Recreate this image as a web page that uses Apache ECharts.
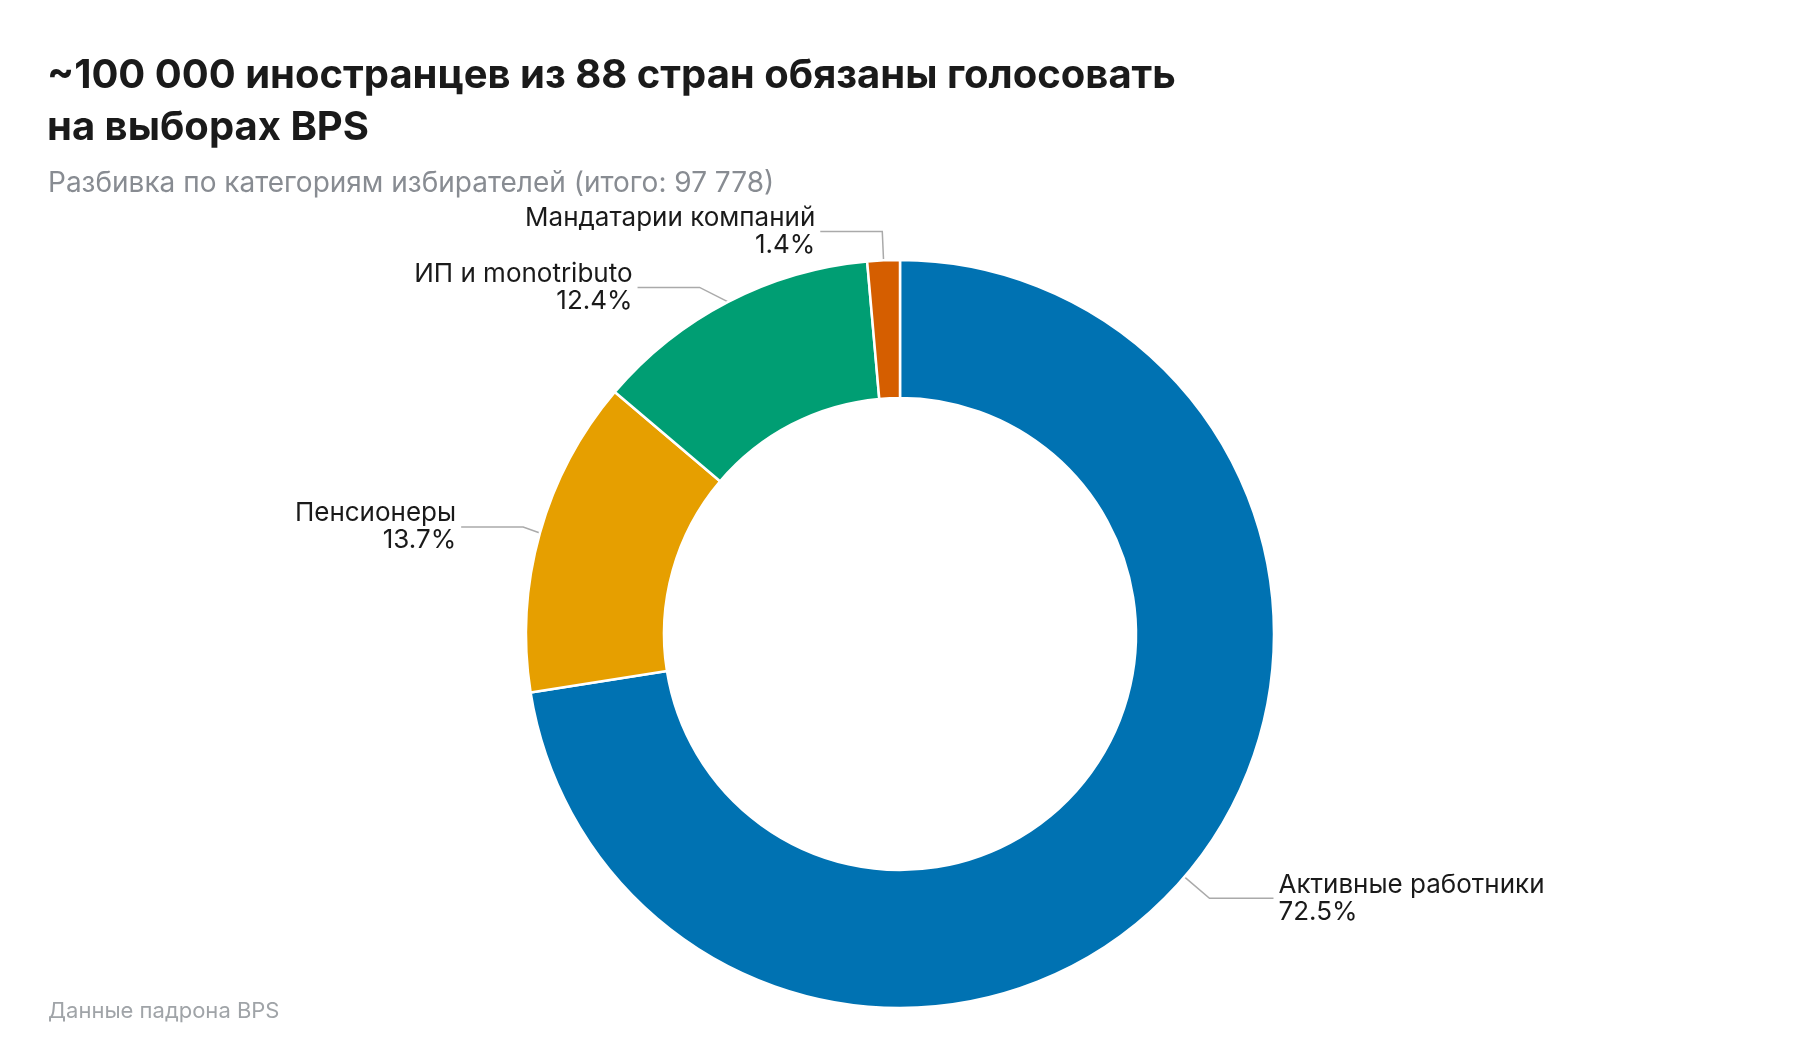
<!DOCTYPE html>
<html>
<head>
<meta charset="utf-8">
<script src="https://cdn.jsdelivr.net/npm/echarts@6/dist/echarts.min.js"></script>
<style>
html,body{margin:0;padding:0;background:#fff;}
#chart{width:1800px;height:1040px;}
</style>
</head>
<body>
<div id="chart"></div>
<script>
const categories = ['Активные работники', 'Пенсионеры', 'ИП и monotributo', 'Мандатарии компаний'];
const shares = [72.5, 13.7, 12.4, 1.4];
const colors = ['#0072B2', '#E69F00', '#009E73', '#D55E00'];
const titleText = '~100 000 иностранцев из 88 стран обязаны голосовать\nна выборах BPS';
const subtitleText = 'Разбивка по категориям избирателей (итого: 97 778)';
const sourceText = 'Данные падрона BPS';
const leaderLengths = [33, 22, 28, 29];
const leaderLengths2 = [64, 62, 62, 62];

const chart = echarts.init(document.getElementById('chart'));
chart.setOption({
  backgroundColor: '#ffffff',
  animation: false,
  title: [
    {
      text: titleText,
      left: 42, top: 45,
      textStyle: {fontFamily: 'Inter', fontWeight: 700, fontSize: 40, lineHeight: 52, color: '#1a1a1a'}
    },
    {
      text: subtitleText,
      left: 43, top: 165,
      textStyle: {fontFamily: 'Inter', fontWeight: 400, fontSize: 28, color: '#888c92'}
    },
    {
      text: sourceText,
      left: 43, top: 995,
      textStyle: {fontFamily: 'Inter', fontWeight: 400, fontSize: 22, color: '#a0a4a8'}
    }
  ],
  series: [{
    type: 'pie',
    center: [900, 634],
    radius: [236, 374],
    startAngle: 90,
    clockwise: true,
    percentPrecision: 1,
    avoidLabelOverlap: true,
    itemStyle: {borderColor: '#ffffff', borderWidth: 2.5},
    label: {
      show: true,
      formatter: '{b}\n{d}%',
      fontFamily: 'Inter',
      fontSize: 26,
      lineHeight: 27,
      color: '#1a1a1a'
    },
    labelLine: {
      show: true,
      length: 22,
      length2: 64,
      lineStyle: {color: '#aaaaaa', width: 1.5}
    },
    data: categories.map((c, i) => ({
      name: c,
      value: shares[i],
      itemStyle: {color: colors[i]},
      labelLine: {length: leaderLengths[i], length2: leaderLengths2[i]}
    }))
  }]
});
</script>
</body>
</html>
